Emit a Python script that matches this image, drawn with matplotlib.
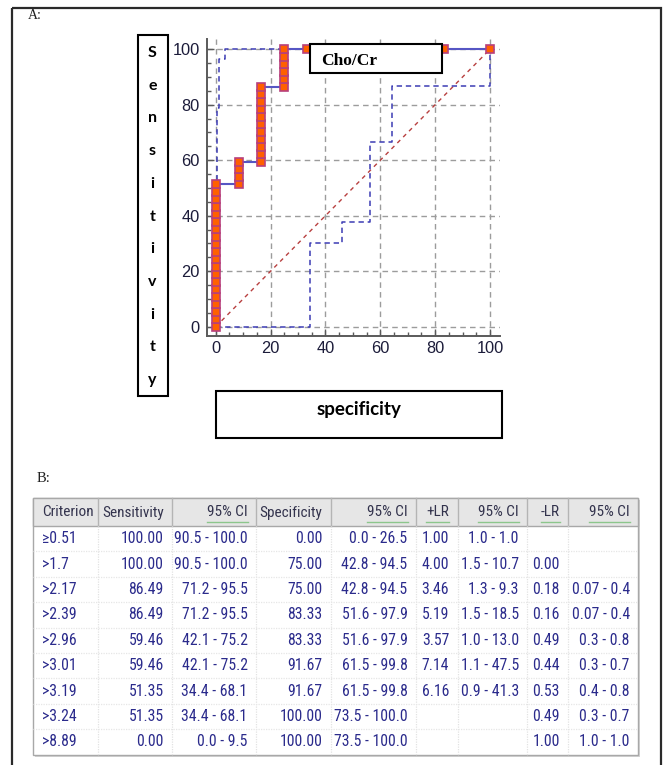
import matplotlib
matplotlib.use("Agg")
import matplotlib.pyplot as plt
from matplotlib import font_manager as fm
from matplotlib.patches import Rectangle
from matplotlib.ticker import MultipleLocator

W, H = 664, 765

# ---- ROC operating points: x = 100 - specificity, y = sensitivity ----
roc_fpr = [0.00, 0.00, 0.00, 0.00, 0.00, 0.00, 0.00, 0.00, 0.00, 0.00,
           0.00, 0.00, 0.00, 0.00, 0.00, 0.00, 0.00, 0.00, 0.00, 0.00,
           8.33, 8.33, 8.33, 8.33,
           16.67, 16.67, 16.67, 16.67, 16.67, 16.67, 16.67, 16.67, 16.67, 16.67, 16.67,
           25.00, 25.00, 25.00, 25.00, 25.00, 25.00,
           33.33, 83.33, 100.00]
roc_tpr = [0.00, 2.70, 5.41, 8.11, 10.81, 13.51, 16.22, 18.92, 21.62, 24.32,
           27.03, 29.73, 32.43, 35.14, 37.84, 40.54, 43.24, 45.95, 48.65, 51.35,
           51.35, 54.05, 56.76, 59.46,
           59.46, 62.16, 64.86, 67.57, 70.27, 72.97, 75.68, 78.38, 81.08, 83.78, 86.49,
           86.49, 89.19, 91.89, 94.59, 97.30, 100.00,
           100.00, 100.00, 100.00]

# 95% confidence bounds of the curve
ci_upper_x = [0.36, 0.36, 1.30, 1.30, 3.40, 3.40, 100.0]
ci_upper_y = [0.0, 78.7, 78.7, 96.4, 96.4, 100.0, 100.0]
ci_lower_x = [0.0, 34.4, 34.4, 46.2, 46.2, 56.2, 56.2, 64.4, 64.4, 100.0, 100.0]
ci_lower_y = [0.0, 0.0, 30.3, 30.3, 37.6, 37.6, 66.7, 66.7, 86.8, 86.8, 100.0]

tick_values = [0, 20, 40, 60, 80, 100]

# ---- criterion table ----
headers = ["Criterion", "Sensitivity", "95% CI", "Specificity", "95% CI",
           "+LR", "95% CI", "-LR", "95% CI"]
criterion = ["\u22650.51", ">1.7", ">2.17", ">2.39", ">2.96", ">3.01", ">3.19", ">3.24", ">8.89"]
sensitivity = ["100.00", "100.00", "86.49", "86.49", "59.46", "59.46", "51.35", "51.35", "0.00"]
sens_ci = ["90.5 - 100.0", "90.5 - 100.0", "71.2 - 95.5", "71.2 - 95.5", "42.1 - 75.2",
           "42.1 - 75.2", "34.4 - 68.1", "34.4 - 68.1", "0.0 - 9.5"]
specificity = ["0.00", "75.00", "75.00", "83.33", "83.33", "91.67", "91.67", "100.00", "100.00"]
spec_ci = ["0.0 - 26.5", "42.8 - 94.5", "42.8 - 94.5", "51.6 - 97.9", "51.6 - 97.9",
           "61.5 - 99.8", "61.5 - 99.8", "73.5 - 100.0", "73.5 - 100.0"]
plus_lr = ["1.00", "4.00", "3.46", "5.19", "3.57", "7.14", "6.16", "", ""]
plus_lr_ci = ["1.0 - 1.0", "1.5 - 10.7", "1.3 - 9.3", "1.5 - 18.5", "1.0 - 13.0",
              "1.1 - 47.5", "0.9 - 41.3", "", ""]
minus_lr = ["", "0.00", "0.18", "0.16", "0.49", "0.44", "0.53", "0.49", "1.00"]
minus_lr_ci = ["", "", "0.07 - 0.4", "0.07 - 0.4", "0.3 - 0.8", "0.3 - 0.7",
               "0.4 - 0.8", "0.3 - 0.7", "1.0 - 1.0"]
table_columns = [criterion, sensitivity, sens_ci, specificity, spec_ci,
                 plus_lr, plus_lr_ci, minus_lr, minus_lr_ci]
underlined = [False, False, True, False, True, True, True, True, True]

# ---- fonts ----
names = {f.name for f in fm.fontManager.ttflist}
narrow = None
for cand in ["Liberation Sans Narrow", "Roboto Condensed", "Open Sans Condensed",
             "Noto Sans Condensed", "DejaVu Sans Condensed"]:
    if cand in names:
        narrow = dict(family=cand)
        break
if narrow is None:
    narrow = dict(family="DejaVu Sans", stretch="condensed")

plt.rcParams["font.family"] = ["Liberation Sans", "DejaVu Sans"]

fig = plt.figure(figsize=(W / 100, H / 100), dpi=100)
fig.patch.set_facecolor("white")


def frac(x0, y0, x1, y1):
    return [x0 / W, 1 - y1 / H, (x1 - x0) / W, (y1 - y0) / H]


# ---- ROC axes ----
ax = fig.add_axes(frac(206.7, 39.0, 500.0, 335.7))
ax.set_xlim(-3.28, 103.65)
ax.set_ylim(-3.24, 103.7)
for side in ("top", "right"):
    ax.spines[side].set_visible(False)
for side in ("left", "bottom"):
    ax.spines[side].set_color("#5a5a5a")
    ax.spines[side].set_linewidth(1.4)
ax.set_xticks(tick_values)
ax.set_yticks(tick_values)
ax.xaxis.set_minor_locator(MultipleLocator(5))
ax.yaxis.set_minor_locator(MultipleLocator(5))
ax.tick_params(which="major", direction="in", length=5, width=1, color="#5a5a5a",
               labelsize=11.8, labelcolor="#1c1c3a")
ax.tick_params(which="minor", direction="in", length=3, width=1, color="#5a5a5a")
ax.tick_params(axis="y", which="major", pad=5.0)
ax.tick_params(axis="x", which="major", pad=3.5)
ax.grid(True, which="major", color="#9c9c9c", linestyle=(0, (4, 3)), linewidth=1)
ax.set_axisbelow(True)

ax.plot([0, 100], [0, 100], color="#b84040", linestyle=(0, (3, 3)), linewidth=1, zorder=2)
ax.plot(ci_upper_x, ci_upper_y, color="#3c3cb4", linestyle=(0, (3.5, 2.5)), linewidth=1.1, zorder=3)
ax.plot(ci_lower_x, ci_lower_y, color="#3c3cb4", linestyle=(0, (3.5, 2.5)), linewidth=1.1, zorder=3)
ax.plot(roc_fpr, roc_tpr, color="#5656c4", linewidth=1.5, marker="s", markersize=5.8,
        markerfacecolor="#ff6000", markeredgecolor="#b8407c", markeredgewidth=1.2,
        zorder=4, clip_on=False)

# ---- overlay in pixel coordinates ----
ov = fig.add_axes([0, 0, 1, 1])
ov.set_xlim(0, W)
ov.set_ylim(H, 0)
ov.axis("off")
ov.set_zorder(10)

ov.add_patch(Rectangle((12, 8), 649, 800, fill=False, edgecolor="#2a2a2a", linewidth=1.6))
ov.text(28, 15, "A:", fontsize=10, family="Liberation Serif", va="center", ha="left", color="#222")
ov.text(37, 478, "B:", fontsize=10.5, family="Liberation Serif", va="center", ha="left", color="#222")

# vertical axis title box
ov.add_patch(Rectangle((138, 35), 30, 361, facecolor="white", edgecolor="black", linewidth=1.5))
for i, ch in enumerate("Sensitivity"):
    ov.text(152.5, 53 + i * 32.7, ch, fontsize=11.5, family="Lato", fontweight="bold",
            ha="center", va="center", color="black")

# horizontal axis title box
ov.add_patch(Rectangle((216, 390.7), 285.7, 47.3, facecolor="white", edgecolor="black", linewidth=1.5))
ov.text(358.5, 409, "specificity", fontsize=13.5, family="Lato", fontweight="bold",
        ha="center", va="center", color="black")

# curve name box
ov.add_patch(Rectangle((310, 44), 131.7, 29.3, facecolor="white", edgecolor="black", linewidth=1.5))
ov.text(320.7, 61, "Cho/Cr", fontsize=12.5, family="Liberation Serif", fontweight="bold",
        ha="left", va="center", color="black")

# ---- table ----
cols = [33.3, 97.7, 172.3, 256.0, 330.7, 416.0, 457.7, 527.3, 568.3, 638.3]
head_top, head_bot = 498.0, 526.0
row_h = 25.4
n_rows = len(criterion)
tab_bot = head_bot + n_rows * row_h

ov.add_patch(Rectangle((cols[0] + 2, head_top + 2), cols[-1] - cols[0], tab_bot - head_top,
                       facecolor="#d4d4d4", edgecolor="none"))
ov.add_patch(Rectangle((cols[0], head_top), cols[-1] - cols[0], tab_bot - head_top,
                       facecolor="white", edgecolor="#a8a8a8", linewidth=1))
ov.add_patch(Rectangle((cols[0], head_top), cols[-1] - cols[0], head_bot - head_top,
                       facecolor="#e6e6e6", edgecolor="#a8a8a8", linewidth=1))
for x in cols[1:-1]:
    ov.plot([x, x], [head_top, head_bot], color="#b4b4b4", linewidth=1)
    ov.plot([x, x], [head_bot, tab_bot], color="#e2e2e2", linewidth=0.9, linestyle=(0, (1, 1)))
for r in range(1, n_rows):
    y = head_bot + r * row_h
    ov.plot([cols[0], cols[-1]], [y, y], color="#e6e6e6", linewidth=0.9, linestyle=(0, (1, 1)))

HEAD_FS = 11.0
CELL_FS = 11.3
head_texts = []
for c, name in enumerate(headers):
    if c == 0:
        t = ov.text(cols[0] + 8.4, 512.5, name, ha="left", va="center", fontsize=HEAD_FS,
                    color="#33334d", **narrow)
    else:
        t = ov.text(cols[c + 1] - 8.5, 512.5, name, ha="right", va="center", fontsize=HEAD_FS,
                    color="#33334d", **narrow)
    head_texts.append(t)

for c, column in enumerate(table_columns):
    for r, val in enumerate(column):
        if not val:
            continue
        y = head_bot + (r + 0.5) * row_h
        if c == 0:
            ov.text(cols[0] + 8.4, y, val, ha="left", va="center", fontsize=CELL_FS,
                    color="#2b2b8c", **narrow)
        else:
            ov.text(cols[c + 1] - 8.5, y, val, ha="right", va="center", fontsize=CELL_FS,
                    color="#2b2b8c", **narrow)

# green underline below the sortable header captions
fig.canvas.draw()
renderer = fig.canvas.get_renderer()
inv = ov.transData.inverted()
for t, ul in zip(head_texts, underlined):
    if not ul:
        continue
    bb = t.get_window_extent(renderer)
    (x0, _), (x1, _) = inv.transform([(bb.x0, bb.y0), (bb.x1, bb.y1)])
    ov.plot([x0, x1], [522.3, 522.3], color="#8cc68c", linewidth=1)

fig.savefig("out.png", dpi=100, facecolor="white")
